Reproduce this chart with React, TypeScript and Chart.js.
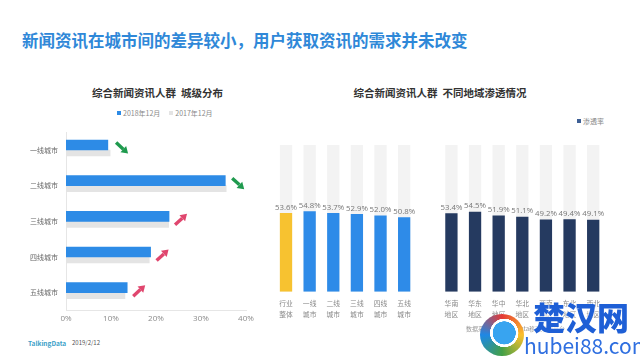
import React, { useEffect, useRef } from 'react';
import { Chart, registerables } from 'chart.js';

Chart.register(...registerables);

const FONT = "'Noto Sans CJK SC', 'Noto Sans', sans-serif";
const NUM_FONT = "'Open Sans', 'Liberation Sans', sans-serif";

// ---- Left chart data: city tier distribution (%) ----
const cityCategories = ['一线城市', '二线城市', '三线城市', '四线城市', '五线城市'];
const share2018 = [9.3, 35.4, 22.9, 18.8, 13.6];
const share2017 = [9.8, 35.6, 22.8, 18.5, 13.1];
const shareTicks = [0, 10, 20, 30, 40];
const shareSeriesNames = ['2018年12月', '2017年12月'];

// ---- Right chart data: penetration by region (%) ----
const regionCategories: string[][] = [
  ['行业', '整体'], ['一线', '城市'], ['二线', '城市'], ['三线', '城市'], ['四线', '城市'], ['五线', '城市'],
  [''],
  ['华南', '地区'], ['华东', '地区'], ['华中', '地区'], ['华北', '地区'], ['西南', '地区'], ['东北', '地区'], ['西北', '地区'],
];
const penetration: (number | null)[] = [53.6, 54.8, 53.7, 52.9, 52.0, 50.8, null, 53.4, 54.5, 51.9, 51.1, 49.2, 49.4, 49.1];
const penetrationMax = 100;
const penetrationSeriesName = '渗透率';

function drawArrow(ctx: CanvasRenderingContext2D, x0: number, y0: number, x1: number, y1: number, color: string) {
  const ang = Math.atan2(y1 - y0, x1 - x0);
  const head = 6.5;
  const hw = 4.2;
  const bx = x1 - Math.cos(ang) * head;
  const by = y1 - Math.sin(ang) * head;
  ctx.save();
  ctx.strokeStyle = color;
  ctx.fillStyle = color;
  ctx.lineWidth = 3.4;
  ctx.lineCap = 'butt';
  ctx.beginPath();
  ctx.moveTo(x0, y0);
  ctx.lineTo(bx, by);
  ctx.stroke();
  ctx.beginPath();
  ctx.moveTo(x1, y1);
  ctx.lineTo(bx + Math.cos(ang + Math.PI / 2) * hw, by + Math.sin(ang + Math.PI / 2) * hw);
  ctx.lineTo(bx + Math.cos(ang - Math.PI / 2) * hw, by + Math.sin(ang - Math.PI / 2) * hw);
  ctx.closePath();
  ctx.fill();
  ctx.restore();
}

function CityChart() {
  const ref = useRef<HTMLCanvasElement>(null);
  useEffect(() => {
    if (!ref.current) return;
    const arrowPlugin = {
      id: 'trendArrows',
      afterDatasetsDraw(chart: any) {
        const ctx = chart.ctx;
        const m0 = chart.getDatasetMeta(0);
        const m1 = chart.getDatasetMeta(1);
        const ys = chart.scales.y;
        share2018.forEach((v, i) => {
          const endX = Math.max(m0.data[i].x, m1.data[i].x);
          const cy = ys.getPixelForValue(i) - 2;
          const up = v > share2017[i];
          const x0 = endX + 6;
          const x1 = endX + 18;
          const y0 = up ? cy + 5.5 : cy - 5.5;
          const y1 = up ? cy - 5.5 : cy + 5.5;
          drawArrow(ctx, x0, y0, x1, y1, up ? '#e0466e' : '#1f9a4e');
        });
      },
    };
    const chart = new Chart(ref.current, {
      type: 'bar',
      data: {
        labels: cityCategories,
        datasets: [
          { label: shareSeriesNames[0], data: share2018, backgroundColor: '#2d8be6', barThickness: 10 },
          { label: shareSeriesNames[1], data: share2017, backgroundColor: '#e4e4e4', barThickness: 6 },
        ],
      },
      options: {
        indexAxis: 'y',
        responsive: false,
        animation: false,
        devicePixelRatio: 1,
        layout: { padding: { top: 5.5, right: 16, left: 0, bottom: 0 } },
        plugins: { legend: { display: false }, tooltip: { enabled: false } },
        scales: {
          x: {
            min: shareTicks[0],
            max: shareTicks[shareTicks.length - 1],
            afterBuildTicks: (s: any) => { s.ticks = shareTicks.map((v) => ({ value: v })); },
            ticks: { callback: (v: any) => v + '%', color: '#8a8a8a', font: { size: 8, family: NUM_FONT }, padding: 3 },
            grid: { display: false, drawTicks: false },
            border: { display: true, color: '#e6e6e6' },
            afterFit: (s: any) => { s.height = 19.5; },
          },
          y: {
            ticks: { color: '#666', font: { size: 7, family: FONT }, padding: 8 },
            grid: { display: false, drawTicks: false },
            border: { display: true, color: '#e6e6e6' },
            afterFit: (s: any) => { s.width = 66; },
          },
        },
      } as any,
      plugins: [arrowPlugin],
    });
    return () => chart.destroy();
  }, []);
  return <canvas ref={ref} width={262} height={210} style={{ position: 'absolute', left: 0, top: 120 }} />;
}

function RegionChart() {
  const ref = useRef<HTMLCanvasElement>(null);
  useEffect(() => {
    if (!ref.current) return;
    const labelPlugin = {
      id: 'valueLabels',
      afterDatasetsDraw(chart: any) {
        const ctx = chart.ctx;
        const meta = chart.getDatasetMeta(0);
        ctx.save();
        ctx.font = `7.8px ${NUM_FONT}`;
        ctx.fillStyle = '#777';
        ctx.textAlign = 'center';
        ctx.textBaseline = 'middle';
        penetration.forEach((v, i) => {
          if (v == null) return;
          const el = meta.data[i];
          ctx.fillText(v.toFixed(1) + '%', el.x, el.y - 5.5);
        });
        ctx.restore();
      },
    };
    const colorFor = (c: any) => {
      const i = c.dataIndex;
      if (i === 0) return '#f7c230';
      if (i < 6) return '#2e8be8';
      return '#253a60';
    };
    const chart = new Chart(ref.current, {
      type: 'bar',
      data: {
        labels: regionCategories as any,
        datasets: [
          {
            label: penetrationSeriesName,
            data: penetration,
            backgroundColor: colorFor,
            grouped: false,
            order: 0,
            categoryPercentage: 1,
            barPercentage: 0.52,
          },
          {
            label: 'bg',
            data: penetration.map((v) => (v == null ? null : penetrationMax)),
            backgroundColor: '#f3f3f3',
            grouped: false,
            order: 1,
            categoryPercentage: 1,
            barPercentage: 0.52,
          },
        ],
      },
      options: {
        responsive: false,
        animation: false,
        devicePixelRatio: 1,
        layout: { padding: { top: 5, right: 35, left: 12.2, bottom: 0 } },
        plugins: { legend: { display: false }, tooltip: { enabled: false } },
        scales: {
          x: {
            ticks: { color: '#888', font: { size: 6.8, family: FONT, lineHeight: 1.5 }, padding: 7, autoSkip: false, maxRotation: 0 },
            grid: { display: false, drawTicks: false },
            border: { display: false },
            afterFit: (s: any) => { s.height = 38.3; },
          },
          y: { display: false, min: 0, max: penetrationMax },
        },
      } as any,
      plugins: [labelPlugin],
    });
    return () => chart.destroy();
  }, []);
  return <canvas ref={ref} width={378} height={190} style={{ position: 'absolute', left: 262, top: 140 }} />;
}

export default function App() {
  const abs = (o: React.CSSProperties): React.CSSProperties => ({ position: 'absolute', whiteSpace: 'nowrap', ...o });
  return (
    <div style={{ position: 'fixed', left: 0, top: 0, width: 640, height: 360, background: '#fff', overflow: 'hidden', fontFamily: FONT }}>
      <div style={abs({ left: 22, top: 29, fontSize: 16.5, fontWeight: 700, color: '#2f88d8', lineHeight: '22px' })}>
        新闻资讯在城市间的差异较小，用户获取资讯的需求并未改变
      </div>

      <div style={abs({ left: 0, width: 315, top: 86, textAlign: 'center', fontSize: 10.5, fontWeight: 700, color: '#333', lineHeight: '14px' })}>
        综合新闻资讯人群&nbsp;&nbsp;城级分布
      </div>
      <div style={abs({ left: 117, top: 108, fontSize: 7, color: '#8a8a8a', lineHeight: '10px', display: 'flex', alignItems: 'center' })}>
        <span style={{ display: 'inline-block', width: 4, height: 4, background: '#2d8be6', marginRight: 2 }} />
        {shareSeriesNames[0]}
        <span style={{ display: 'inline-block', width: 4, height: 4, background: '#e4e4e4', marginLeft: 9, marginRight: 2 }} />
        {shareSeriesNames[1]}
      </div>

      <div style={abs({ left: 262, width: 356, top: 86, textAlign: 'center', fontSize: 10.5, fontWeight: 700, color: '#333', lineHeight: '14px' })}>
        综合新闻资讯人群&nbsp;&nbsp;不同地域渗透情况
      </div>
      <div style={abs({ left: 577, top: 116, fontSize: 7, color: '#8a8a8a', lineHeight: '10px', display: 'flex', alignItems: 'center' })}>
        <span style={{ display: 'inline-block', width: 4, height: 4, background: '#3d5f95', marginRight: 2 }} />
        {penetrationSeriesName}
      </div>

      <CityChart />
      <RegionChart />

      <div style={abs({ left: 28, top: 338, fontSize: 6.5, fontWeight: 700, color: '#3aa0c8', lineHeight: '10px' })}>TalkingData</div>
      <div style={abs({ left: 72, top: 338, fontSize: 6, color: '#555', lineHeight: '10px' })}>2019/2/12</div>

      <div style={abs({ left: 466, top: 324, fontSize: 6, color: '#999', lineHeight: '10px' })}>数据来源：TalkingData移动观测平台</div>
      <div style={abs({ left: 480, top: 314, width: 44, height: 42, borderRadius: '50%',
        background: 'radial-gradient(circle at 55% 45%, #38a4f0 0 34%, #fff 35% 42%, transparent 43%), conic-gradient(#e53935, #fbc02d, #43a047, #1e88e5, #e53935)' })} />
      <div style={abs({ left: 533, top: 296, fontSize: 32, fontWeight: 900, color: '#1e5fd6', lineHeight: '40px', textShadow: '0 0 2px #fff, 0 0 2px #fff' })}>楚汉网</div>
      <div style={abs({ left: 524, top: 333, fontSize: 21, color: '#2f6fe0', lineHeight: '24px', textShadow: '0 0 2px #fff' })}>hubei88.com</div>
    </div>
  );
}
